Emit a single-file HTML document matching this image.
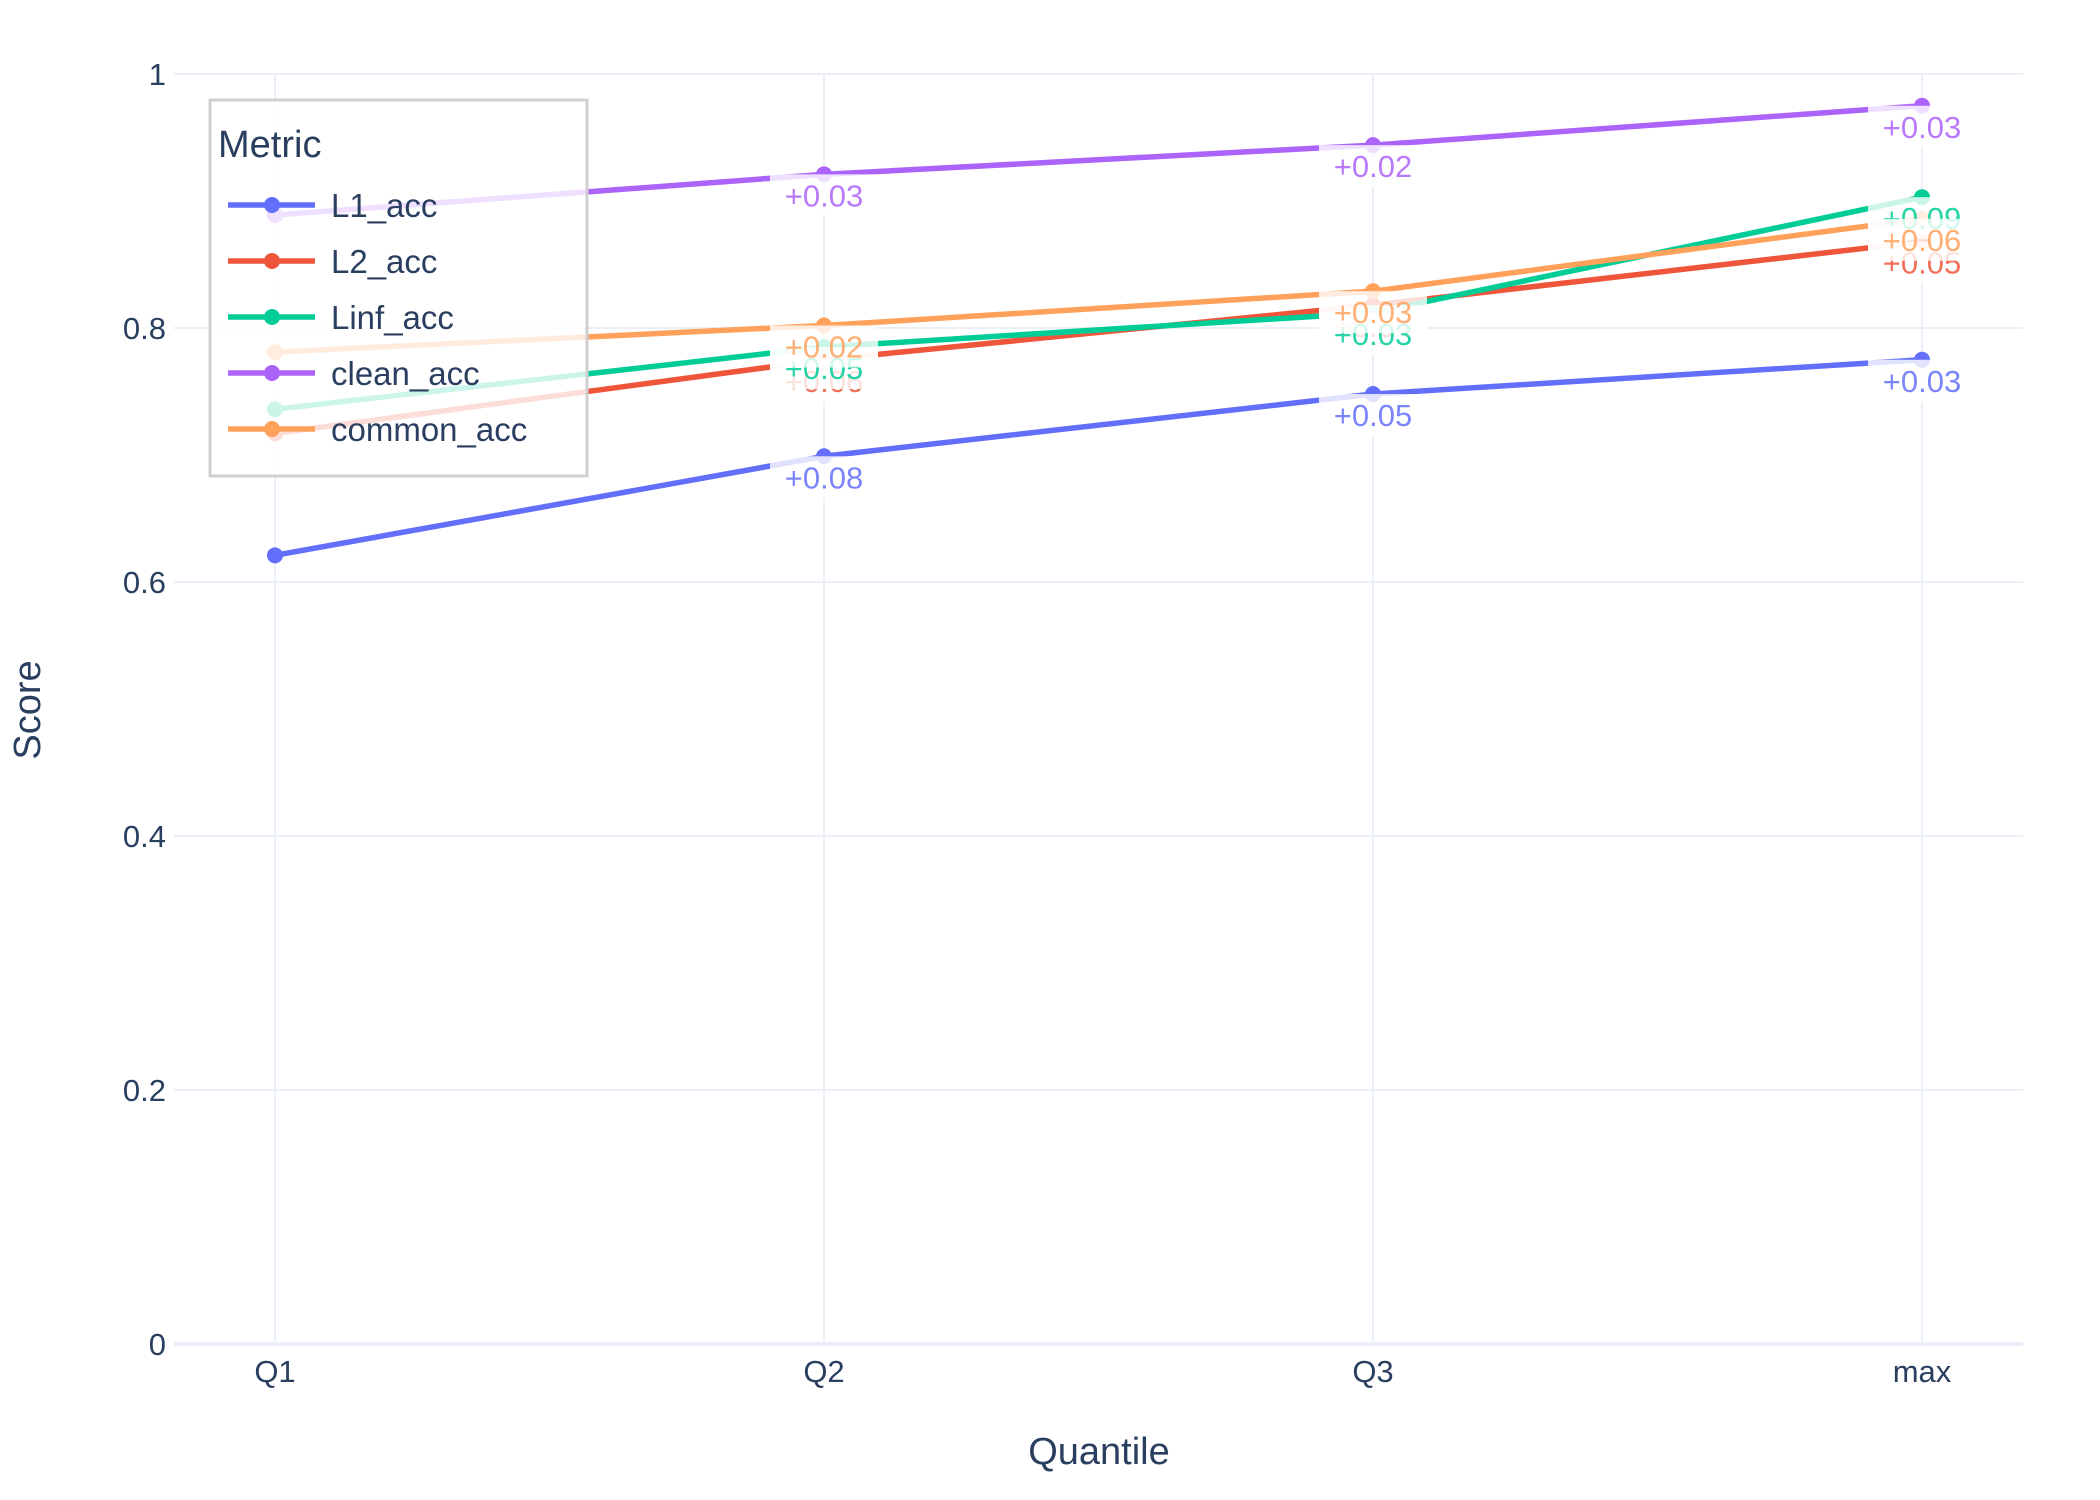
<!DOCTYPE html>
<html><head><meta charset="utf-8"><style>
html,body{margin:0;padding:0;background:#fff;}
svg{display:block;font-family:"Liberation Sans",sans-serif;}
</style></head><body>
<svg id="chart" width="2100" height="1500" viewBox="0 0 2100 1500">
<g id="grid"></g>
<g id="series"></g>
<g id="legend"></g>
<g id="annots"></g>
<g id="axes"></g>
</svg>
<script>
const categories = ["Q1","Q2","Q3","max"];
const seriesNames = ["L1_acc","L2_acc","Linf_acc","clean_acc","common_acc"];
const seriesColors = ["#636efa","#ef553b","#00cc96","#ab63fa","#ffa15a"];
const L1_acc = [0.621,0.699,0.748,0.775];
const L2_acc = [0.717,0.775,0.818,0.868];
const Linf_acc = [0.736,0.785,0.812,0.903];
const clean_acc = [0.889,0.921,0.944,0.975];
const common_acc = [0.781,0.802,0.829,0.886];
const yTicks = [0,0.2,0.4,0.6,0.8,1];
const yTickLabels = ["0","0.2","0.4","0.6","0.8","1"];

const NS="http://www.w3.org/2000/svg";
const X0=174,X1=2023,Y0=1344,Y1=74;
const XA=275,XB=1922;
function xs(i){return XA+(XB-XA)*i/(categories.length-1);}
function ys(v){return Y0-(Y0-Y1)*v;}
function mk(tag,attrs,parent){const e=document.createElementNS(NS,tag);for(const k in attrs)e.setAttribute(k,attrs[k]);parent.appendChild(e);return e;}
const grid=document.getElementById('grid'),ser=document.getElementById('series'),leg=document.getElementById('legend'),ann=document.getElementById('annots'),axes=document.getElementById('axes');
const TXT="#2a3f5f";
yTicks.forEach((t,i)=>{
  const l=mk('line',{x1:X0,x2:X1,y1:ys(t),y2:ys(t),stroke:"#ebf0f8","stroke-width":t===0?4:2},grid);
  
  
  const tx=mk('text',{x:166,y:ys(t)+11,"text-anchor":"end","font-size":31,fill:TXT},axes);
  tx.textContent=yTickLabels[i];
  
  
});
categories.forEach((c,i)=>{
  const l=mk('line',{x1:xs(i),x2:xs(i),y1:Y1,y2:Y0,stroke:"#ebf0f8","stroke-width":2},grid);
  
  
  const tx=mk('text',{x:xs(i),y:1382,"text-anchor":"middle","font-size":31,fill:TXT},axes);
  tx.textContent=c;
  
  
});
let t=mk('text',{x:1099,y:1464,"text-anchor":"middle","font-size":38,fill:TXT},axes);t.textContent="Quantile";


t=mk('text',{x:40,y:710,"text-anchor":"middle","font-size":38,fill:TXT,transform:"rotate(-90 40 710)"},axes);t.textContent="Score";



const data=[L1_acc,L2_acc,Linf_acc,clean_acc,common_acc];
data.forEach((vals,s)=>{
  const g=mk('g',{},ser);
  
  
  const p=mk('polyline',{points:vals.map((v,i)=>xs(i)+","+ys(v)).join(" "),fill:"none",stroke:seriesColors[s],"stroke-width":5.5,"stroke-linejoin":"round"},g);
  
  
  vals.forEach((v,i)=>{
    const c=mk('circle',{cx:xs(i),cy:ys(v),r:8,fill:seriesColors[s]},g);
    
    
  });
});
// legend
const lb=mk('rect',{x:210,y:100,width:377,height:376,fill:"rgba(255,255,255,0.8)",stroke:"#d0d0d0","stroke-width":3},leg);


t=mk('text',{x:218,y:157,"font-size":38,fill:TXT},leg);t.textContent="Metric";


seriesNames.forEach((n,s)=>{
  const y=205+s*56;
  const g=mk('g',{},leg);
  
  
  mk('line',{x1:228,x2:315,y1:y,y2:y,stroke:seriesColors[s],"stroke-width":5.5},g);
  mk('circle',{cx:272,cy:y,r:8,fill:seriesColors[s]},g);
  const tx=mk('text',{x:331,y:y+12,"font-size":33,fill:TXT},g);tx.textContent=n;
});
// annotations
data.forEach((vals,s)=>{
  for(let i=1;i<vals.length;i++){
    const d=vals[i]-vals[i-1];
    const x=xs(i),y=ys(vals[i]);
    const g=mk('g',{},ann);
    
    
    mk('rect',{x:x-54,y:y,width:108,height:42,fill:"rgba(255,255,255,0.8)"},g);
    const tx=mk('text',{x:x,y:y+32,"text-anchor":"middle","font-size":31,fill:seriesColors[s],"fill-opacity":0.85},g);
    tx.textContent=(d>=0?"+":"")+(Math.round(d*100+1e-6)/100).toFixed(2);
  }
});
</script>
</body></html>
